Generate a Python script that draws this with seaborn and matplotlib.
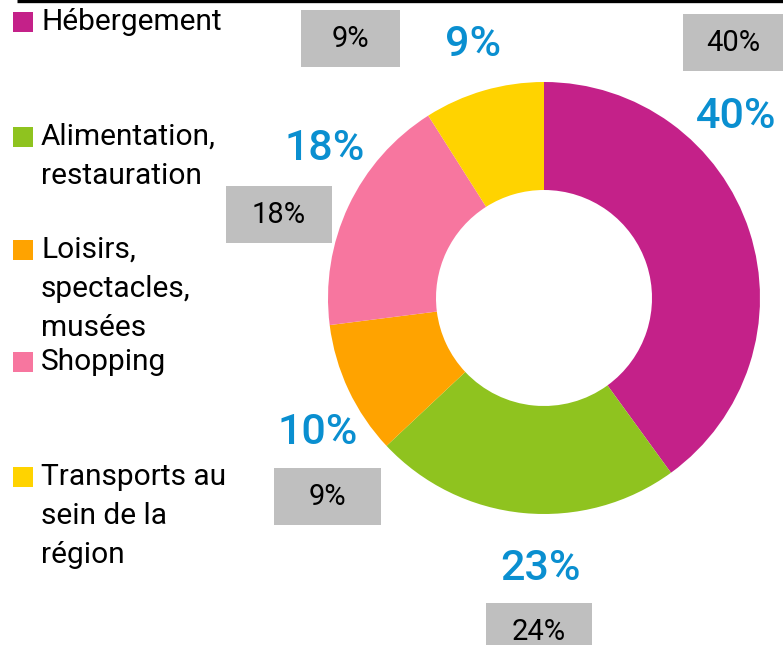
import matplotlib.pyplot as plt
import seaborn as sns
from matplotlib.patches import Rectangle

sns.set_theme(style="white")
plt.rcParams['font.family'] = ['Roboto', 'DejaVu Sans']

# data
categories = ["Hébergement", "Alimentation,\nrestauration", "Loisirs,\nspectacles,\nmusées",
              "Shopping", "Transports au\nsein de la\nrégion"]
shares = [40, 23, 10, 18, 9]          # ring values (blue labels)
previous = [40, 24, 9, 18, 9]         # grey boxes
colors = ["#C42189", "#8FC31F", "#FFA300", "#F7769F", "#FFD300"]

W, H = 783, 645
fig = plt.figure(figsize=(W / 100, H / 100), dpi=100)
ax = fig.add_axes([0, 0, 1, 1])

# donut (pixel coords, y inverted so start=-90 is the top and angles go clockwise)
ax.pie(shares, colors=colors, startangle=-90, counterclock=True,
       center=(544, 298), radius=216,
       wedgeprops=dict(width=108, linewidth=0))
ax.set_xlim(0, W)
ax.set_ylim(H, 0)
ax.set_aspect("equal")
ax.axis("off")

# top rule
ax.plot([17, W], [1, 1], color="black", lw=2.4, solid_capstyle="butt")

# legend, drawn by hand
leg_y = [22, 137, 250, 362, 477]
for lab, col, y in zip(categories, colors, leg_y):
    ax.add_patch(Rectangle((13, y - 10), 20, 20, color=col, lw=0))
    for i, line in enumerate(lab.split("\n")):
        ax.text(41, y + i * 39, line, fontsize=21.5, va="center", ha="left", color="black")

# blue labels for the ring
blue_pos = [(736, 117), (541, 569), (318, 433), (325, 148), (473, 45)]
for v, (x, y) in zip(shares, blue_pos):
    ax.text(x, y, f"{v}%", fontsize=31, fontweight="medium", color="#0A8FD0",
            ha="center", va="center")

# grey boxes
boxes = [(683, 14, 100), (486, 603, 106), (274, 468, 107), (226, 186, 106), (301, 10, 99)]
for v, (x, y, w) in zip(previous, boxes):
    ax.add_patch(Rectangle((x, y), w, 57, color="#BFBFBF", lw=0))
    ax.text(x + w / 2, y + 29, f"{v}%", fontsize=21, color="black", ha="center", va="center")

fig.savefig("out.png", dpi=100)
